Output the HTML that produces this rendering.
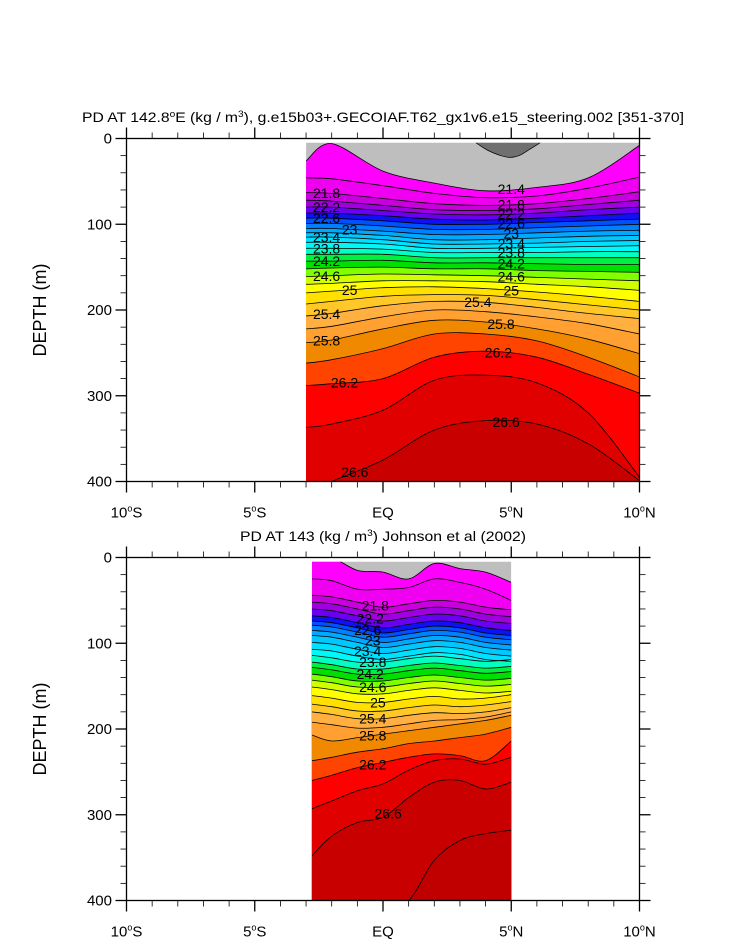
<!DOCTYPE html>
<html><head><meta charset="utf-8"><title>PD sections</title>
<style>
html,body{margin:0;padding:0;background:#fff;}
svg{display:block;font-family:"Liberation Sans",Arial,sans-serif;}
</style></head>
<body>
<svg id="fig" width="733" height="945" viewBox="0 0 733 945" xmlns="http://www.w3.org/2000/svg">
<text x="46" y="310" font-size="18" text-anchor="middle" transform="rotate(-90 46 310)">DEPTH (m)</text>
<text x="46" y="729" font-size="18" text-anchor="middle" transform="rotate(-90 46 729)">DEPTH (m)</text>
<text x="82" y="122" font-size="14" textLength="602" lengthAdjust="spacingAndGlyphs">PD AT 142.8<tspan font-size="9" dy="-5">o</tspan><tspan dy="5">E (kg / m</tspan><tspan font-size="9" dy="-5">3</tspan><tspan dy="5">), g.e15b03+.GECOIAF.T62_gx1v6.e15_steering.002 [351-370]</tspan></text>
<text x="240" y="541" font-size="14" textLength="286" lengthAdjust="spacingAndGlyphs">PD AT 143 (kg / m<tspan font-size="9" dy="-5">3</tspan><tspan dy="5">) Johnson et al (2002)</tspan></text>
</svg>
<script>
// ---------- data ----------
const levels = [21.4,21.6,21.8,22.0,22.2,22.4,22.6,22.8,23.0,23.2,23.4,23.6,23.8,24.0,24.2,24.4,24.6,24.8,25.0,25.2,25.4,25.6,25.8,26.0,26.2,26.4,26.6,26.8];
const bandColors = ["#ff00ff","#f000f0","#c800dc","#a000e0","#6a00f0","#1010f4","#0050ff","#0080ff","#00a8ff","#00c8ff","#00e0ff","#00f8f8","#00ffc0","#00f040","#00e000","#80ff00","#d0ff00","#ffff00","#ffe000","#ffc828","#ffb040","#ffa030","#f08800","#ff4400","#ff0000","#e00000","#c80000","#c00000"];
const aboveColor = "#bebebe";
const latTicks = [-10,-5,0,5,10];
const latTickLabels = ["10°S","5°S","EQ","5°N","10°N"];
const depthTicks = [0,100,200,300,400];

// model (top panel)
const modelLats = [-3,-2,0,2,4,6,8,10];
const modelDepths = [
[26,6,38,52,61,57,46,8],
[46,47,55,64,69,67,58,45],
[63,64,70,76,78,76,70,62],
[72,73,78,83,84,82,77,72],
[80,80,84,88,89,87,83,80],
[87,87,90,94,95,93,90,87],
[93,93,96,100,100,98,96,94],
[99,99,102,106,106,104,102,100],
[105,105,108,112,112,110,108,107],
[110,110,113,118,118,116,114,113],
[115,115,118,123,123,122,120,119],
[121,121,123,128,128,127,126,125],
[128,128,129,133,133,133,132,132],
[135,135,135,139,139,139,139,139],
[143,143,142,145,145,146,147,147],
[152,151,150,152,152,154,155,156],
[161,160,158,159,160,162,164,166],
[170,169,166,166,167,170,173,177],
[180,178,174,173,175,179,184,190],
[193,190,184,182,183,188,194,200],
[207,204,195,190,191,197,204,210],
[222,219,208,200,202,208,216,228],
[238,235,222,212,214,222,234,251],
[262,258,245,228,228,236,255,278],
[288,286,280,255,248,255,275,297],
[337,333,317,282,276,285,320,395],
[415,400,375,340,329,333,356,399]
];
const blobLats = [3.63,4.1,4.6,4.95,5.3,5.7,6.12];
const blobDepths = [5,14,20,22,20,13,5];
const modelLabelLevels = [21.8,22.2,22.6,23.0,23.4,23.8,24.2,24.6,25.0,25.4,25.8,26.2,26.6, 21.4,21.8,22.2,22.6,23.0,23.4,23.8,24.2,24.6,25.0,25.4,25.8,26.2,26.6];
const modelLabelLats = [-2.2,-2.2,-2.2,-1.3,-2.2,-2.2,-2.2,-2.2,-1.3,-2.2,-2.2,-1.5,-1.1, 5,5,5,5,5,5,5,5,5,5,3.7,4.6,4.5,4.8];

// observations (bottom panel)
const obsLats = [-2.77,-2,-1,0,1,2,3,4,5];
const obsDepths = [
[0,0,15,17,25,7,13,17,29],
[25,27,37,37,35,25,29,37,50],
[44,46,52,58,54,50,52,58,61],
[52,54,60,66,62,58,60,66,69],
[60,62,68,74,70,66,68,74,77],
[68,70,76,82,78,74,76,82,85],
[74,76,82,88,84,80,82,88,91],
[79,81,87,93,89,85,87,93,96],
[85,87,93,99,95,91,93,99,102],
[91,93,99,105,101,97,99,105,108],
[99,101,107,112,108,104,106,112,115],
[107,109,115,119,115,111,113,119,121],
[114,117,122,122,118,115,118,121,119],
[122,125,130,130,126,123,126,129,127],
[128,131,136,136,132,129,132,135,133],
[136,139,144,144,140,137,140,143,141],
[143,146,151,151,147,144,147,150,148],
[151,154,159,159,155,152,155,158,156],
[161,164,169,169,165,162,165,164,160],
[171,174,179,179,175,172,174,172,168],
[180,183,188,188,184,181,182,180,175],
[192,195,199,198,194,190,189,186,180],
[207,214,210,206,202,198,194,190,184],
[237,233,227,223,217,214,210,206,198],
[260,254,245,239,233,229,231,237,214],
[293,284,272,264,248,237,235,241,233],
[348,325,309,303,280,262,260,270,262],
[408,408,408,408,400,353,330,322,318]
];
const obsLabelLevels = [21.8,22.2,22.6,23.0,23.4,23.8,24.2,24.6,25.0,25.4,25.8,26.2,26.6];
const obsLabelLats = [-0.3,-0.5,-0.6,-0.4,-0.6,-0.4,-0.5,-0.4,-0.2,-0.4,-0.4,-0.4,0.2];

// ---------- drawing ----------
const NS = "http://www.w3.org/2000/svg";
const svg = document.getElementById('fig');
function mk(tag, attrs, parent){const e=document.createElementNS(NS,tag);for(const k in attrs)e.setAttribute(k,attrs[k]);(parent||svg).appendChild(e);return e;}

function catmull(pts){
  let d = "M"+pts[0][0].toFixed(1)+","+pts[0][1].toFixed(1);
  for(let i=0;i<pts.length-1;i++){
    const p0=pts[i-1]||pts[i], p1=pts[i], p2=pts[i+1], p3=pts[i+2]||p2;
    const c1=[p1[0]+(p2[0]-p0[0])/6, p1[1]+(p2[1]-p0[1])/6];
    const c2=[p2[0]-(p3[0]-p1[0])/6, p2[1]-(p3[1]-p1[1])/6];
    d += " C"+c1[0].toFixed(1)+","+c1[1].toFixed(1)+" "+c2[0].toFixed(1)+","+c2[1].toFixed(1)+" "+p2[0].toFixed(1)+","+p2[1].toFixed(1);
  }
  return d;
}
function interp(xs, ys, x){
  if(x<=xs[0])return ys[0];
  for(let i=0;i<xs.length-1;i++){if(x<=xs[i+1]){const t=(x-xs[i])/(xs[i+1]-xs[i]);return ys[i]+t*(ys[i+1]-ys[i]);}}
  return ys[ys.length-1];
}

function drawPanel(id, top, lats, depths, labLev, labLat, blob){
  const left=126.5, right=639.5, bottom=top+343;
  const X = lat => 383 + lat*25.65;
  const Y = d => top + d*0.8575;
  const g = mk('g',{});
  
  
  const cp = mk('clipPath',{id:id+'-clip'},g);
  mk('rect',{x:X(lats[0]),y:Y(5),width:X(lats[lats.length-1])-X(lats[0]),height:Y(400)-Y(5)},cp);
  const data = mk('g',{'clip-path':'url(#'+id+'-clip)'},g);
  
  
  const bg = mk('rect',{x:X(lats[0]),y:Y(0),width:X(lats[lats.length-1])-X(lats[0]),height:Y(420)-Y(0),fill:aboveColor},data);
  
  
  if(blob){
    const bp = blob[0].map((la,i)=>[X(la),Y(blob[1][i])]);
    const bpath = mk('path',{d:catmull(bp)+" L"+X(blob[0][blob[0].length-1])+","+Y(0)+" L"+X(blob[0][0])+","+Y(0)+" Z",fill:"#707070",stroke:"#000","stroke-width":"0.7"},data);
    
    
  }
  const curves=[];
  depths.forEach((row,i)=>{
    const pts = row.map((d,j)=>[X(lats[j]),Y(d)]);
    const c = catmull(pts);
    curves.push(c);
    const f = mk('path',{d:c+" L"+(X(lats[lats.length-1])+2)+","+Y(430)+" L"+(X(lats[0])-2)+","+Y(430)+" Z",fill:bandColors[i]},data);
    
    
  });
  curves.forEach((c,i)=>{
    const l = mk('path',{d:c,fill:"none",stroke:"#000","stroke-width":"0.8"},data);
    
    
  });
  labLev.forEach((lv,k)=>{
    const i = levels.findIndex(v=>Math.abs(v-lv)<1e-6);
    const d = interp(lats, depths[i], labLat[k]);
    const t = mk('text',{x:X(labLat[k]),y:Y(d)+5,'font-size':'14','text-anchor':'middle',fill:'#000'},data);
    t.textContent = String(lv);
    
    
  });
  const fr = mk('rect',{x:left,y:top,width:right-left,height:bottom-top,fill:'none',stroke:'#000','stroke-width':'1.3'},g);
  
  
  for(let la=-10;la<=10;la++){
    const major = latTicks.indexOf(la)>=0, L = major?11:6, x=X(la);
    const t1 = mk('line',{x1:x,x2:x,y1:bottom,y2:bottom+L,stroke:'#000','stroke-width':major?1.3:0.8},g);
    
    
    const t2 = mk('line',{x1:x,x2:x,y1:top,y2:top-L,stroke:'#000','stroke-width':major?1.3:0.8},g);
    
    
  }
  latTicks.forEach((la,i)=>{
    const s = latTickLabels[i];
    const t = mk('text',{x:X(la),y:bottom+36,'font-size':'15','text-anchor':'middle'},g);
    
    
    if(s.indexOf('°')>=0){
      const p = s.split('°');
      const a=mk('tspan',{},t); a.textContent=p[0];
      const b=mk('tspan',{'font-size':'9',dy:'-6'},t); b.textContent='o';
      const c=mk('tspan',{dy:'6'},t); c.textContent=p[1];
    } else t.textContent=s;
  });
  for(let d=0;d<=400;d+=20){
    const major = depthTicks.indexOf(d)>=0, L = major?11:6, y=Y(d);
    const a = mk('line',{x1:left,x2:left-L,y1:y,y2:y,stroke:'#000','stroke-width':major?1.3:0.8},g);
    
    
    const b = mk('line',{x1:right,x2:right+L,y1:y,y2:y,stroke:'#000','stroke-width':major?1.3:0.8},g);
    
    
  }
  depthTicks.forEach(d=>{
    const t = mk('text',{x:112,y:Y(d)+5,'font-size':'15','text-anchor':'end'},g);
    t.textContent = String(d);
    
    
  });
}
drawPanel('model', 138.5, modelLats, modelDepths, modelLabelLevels, modelLabelLats, [blobLats, blobDepths]);
drawPanel('obs', 557.5, obsLats, obsDepths, obsLabelLevels, obsLabelLats, null);
</script>
</body></html>
